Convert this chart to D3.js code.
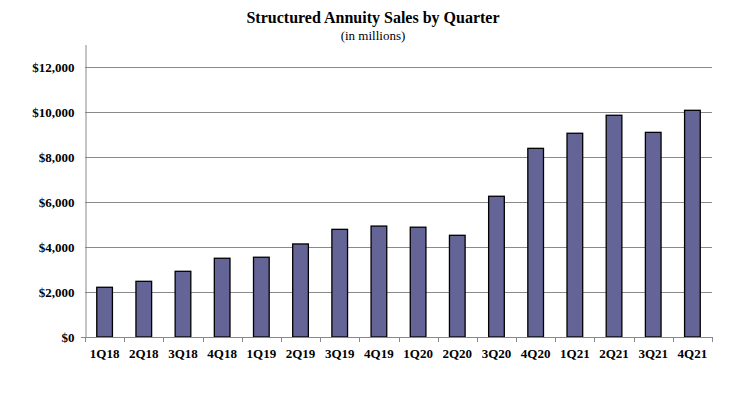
<!DOCTYPE html>
<html>
<head>
<meta charset="utf-8">
<script src="https://cdn.jsdelivr.net/npm/d3@7"></script>
<style>
  body { margin: 0; background: #fff; }
  text { font-family: "Liberation Serif", "Times New Roman", serif; fill: #000; }
</style>
</head>
<body>
<svg></svg>
<script>
var width = 746;
var height = 397;

var quarters = ["1Q18", "2Q18", "3Q18", "4Q18", "1Q19", "2Q19", "3Q19", "4Q19",
                "1Q20", "2Q20", "3Q20", "4Q20", "1Q21", "2Q21", "3Q21", "4Q21"];
var sales = [2210, 2475, 2920, 3500, 3545, 4135, 4785, 4930,
             4880, 4520, 6255, 8385, 9055, 9855, 9095, 10075];
var yTicks = [0, 2000, 4000, 6000, 8000, 10000, 12000];

var margin = {left: 85, right: 34, top: 44.5, bottom: 60};

var svg = d3.select("svg")
    .attr("width", width)
    .attr("height", height);

var x = d3.scaleBand()
    .domain(quarters)
    .range([margin.left, width - margin.right])
    .paddingInner(0.6)
    .paddingOuter(0.3);

var y = d3.scaleLinear()
    .domain([0, 13000])
    .range([height - margin.bottom, margin.top]);

// gridlines
svg.append("g")
    .selectAll("line")
    .data(yTicks.slice(1))
    .enter()
    .append("line")
    .attr("x1", margin.left)
    .attr("x2", width - margin.right)
    .attr("y1", function(d) { return Math.round(y(d)) + 0.5; })
    .attr("y2", function(d) { return Math.round(y(d)) + 0.5; })
    .style("stroke", "#8a8a8a")
    .style("stroke-width", 1);

// bars
svg.append("g")
    .selectAll("rect")
    .data(sales)
    .enter()
    .append("rect")
    .attr("x", function(d, i) { return x(quarters[i]); })
    .attr("y", function(d) { return y(d); })
    .attr("width", x.bandwidth())
    .attr("height", function(d) { return y(0) - y(d); })
    .style("fill", "#646496")
    .style("stroke", "#000")
    .style("stroke-width", 1.3);

// y axis
var yAxis = d3.axisLeft(y)
    .tickValues(yTicks)
    .tickSize(0)
    .tickPadding(11)
    .tickFormat(function(d) { return "$" + d3.format(",")(d); });

var gy = svg.append("g")
    .attr("transform", "translate(" + (margin.left + 0.5) + ",0)")
    .call(yAxis);
gy.select(".domain").style("stroke", "#888");
gy.selectAll("text")
    .style("font-size", "13px")
    .style("font-weight", "bold")
    .style("font-family", "Liberation Serif");

// x axis
var boundaries = d3.range(quarters.length + 1).map(function(i) {
    return margin.left + i * (width - margin.right - margin.left) / quarters.length;
});

var gx = svg.append("g");
gx.append("line")
    .attr("x1", margin.left - 4)
    .attr("x2", width - margin.right)
    .attr("y1", Math.round(y(0)) + 0.5)
    .attr("y2", Math.round(y(0)) + 0.5)
    .style("stroke", "#888");
gx.selectAll("line.tick")
    .data(boundaries)
    .enter()
    .append("line")
    .attr("class", "tick")
    .attr("x1", function(d) { return Math.round(d) + 0.5; })
    .attr("x2", function(d) { return Math.round(d) + 0.5; })
    .attr("y1", Math.round(y(0)))
    .attr("y2", Math.round(y(0)) + 5)
    .style("stroke", "#888");
gx.selectAll("text")
    .data(quarters)
    .enter()
    .append("text")
    .attr("x", function(d) { return x(d) + x.bandwidth() / 2; })
    .attr("y", y(0) + 21)
    .attr("text-anchor", "middle")
    .style("font-size", "13px")
    .style("font-weight", "bold")
    .text(function(d) { return d; });

// titles
svg.append("text")
    .attr("x", 373)
    .attr("y", 23)
    .attr("text-anchor", "middle")
    .style("font-size", "16px")
    .style("font-weight", "bold")
    .text("Structured Annuity Sales by Quarter");

svg.append("text")
    .attr("x", 373)
    .attr("y", 40)
    .attr("text-anchor", "middle")
    .style("font-size", "13px")
    .text("(in millions)");
</script>
</body>
</html>
